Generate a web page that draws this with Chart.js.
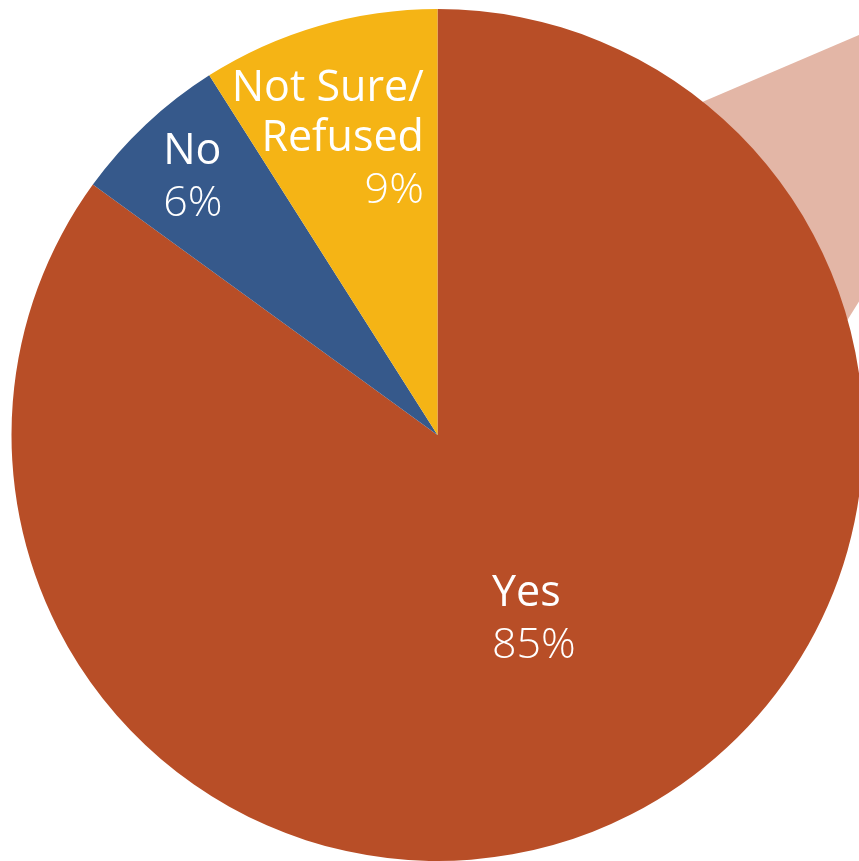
<!DOCTYPE html>
<html>
<head>
<meta charset="utf-8">
<script src="https://cdn.jsdelivr.net/npm/chart.js@4/dist/chart.umd.min.js"></script>
<style>
  html, body { margin: 0; padding: 0; background: #ffffff; }
  #wrap { width: 859px; height: 861px; overflow: hidden; position: relative; }
  canvas { display: block; }
</style>
</head>
<body>
<div id="wrap"><canvas id="pie" width="880" height="861"></canvas></div>
<script>
// Survey answers and their shares (percent)
const categories = ['Yes', 'No', 'Not Sure/\nRefused'];
const shares = [85, 6, 9];
const sliceColors = ['#b84e27', '#36598b', '#f5b415'];

// Label placement per slice, in units of the pie radius from its centre
const labelStyles = [
  { dx: 0.128, dy: 0.402, align: 'left' },
  { dx: -0.644, dy: -0.636, align: 'left' },
  { dx: -0.032, dy: -0.784, align: 'right' }
];

// Pale callout wedge sitting behind the pie (radius units from the centre)
const calloutShape = [[0.498, -0.729], [1.085, -0.980], [1.085, -0.467], [0.804, -0.016]];

const calloutPlugin = {
  id: 'callout',
  beforeDatasetsDraw(chart) {
    const arc = chart.getDatasetMeta(0).data[0];
    if (!arc) return;
    const { x, y, outerRadius: r } = arc.getProps(['x', 'y', 'outerRadius'], true);
    const ctx = chart.ctx;
    ctx.save();
    ctx.fillStyle = '#e3b6a6';
    ctx.beginPath();
    calloutShape.forEach(([px, py], i) => {
      const X = x + px * r, Y = y + py * r;
      if (i === 0) ctx.moveTo(X, Y); else ctx.lineTo(X, Y);
    });
    ctx.closePath();
    ctx.fill();
    ctx.restore();
  }
};

const labelPlugin = {
  id: 'sliceLabels',
  afterDatasetsDraw(chart) {
    const ctx = chart.ctx;
    const meta = chart.getDatasetMeta(0);
    const values = chart.data.datasets[0].data;
    meta.data.forEach((arc, i) => {
      const { x, y, outerRadius: r } = arc.getProps(['x', 'y', 'outerRadius'], true);
      const st = labelStyles[i];
      const ax = x + st.dx * r;
      let by = y + st.dy * r;
      const lines = chart.data.labels[i].split('\n');
      ctx.save();
      ctx.fillStyle = '#ffffff';
      ctx.textAlign = st.align;
      ctx.textBaseline = 'alphabetic';
      ctx.font = '400 43px "Open Sans", "Noto Sans", sans-serif';
      lines.forEach(line => {
        ctx.fillText(line, ax, by);
        by += 50;
      });
      ctx.font = '300 43px "Open Sans", "Noto Sans", sans-serif';
      ctx.fillText(values[i] + '%', ax, by + 2);
      ctx.restore();
    });
  }
};

new Chart(document.getElementById('pie'), {
  type: 'pie',
  data: {
    labels: categories,
    datasets: [{
      data: shares,
      backgroundColor: sliceColors,
      borderWidth: 0,
      hoverOffset: 0,
      offset: 0
    }]
  },
  options: {
    responsive: false,
    animation: false,
    devicePixelRatio: 1,
    events: [],
    layout: { padding: { left: 11, right: 16, top: 9, bottom: 0 } },
    plugins: {
      legend: { display: false },
      tooltip: { enabled: false }
    }
  },
  plugins: [calloutPlugin, labelPlugin]
});
</script>
</body>
</html>
